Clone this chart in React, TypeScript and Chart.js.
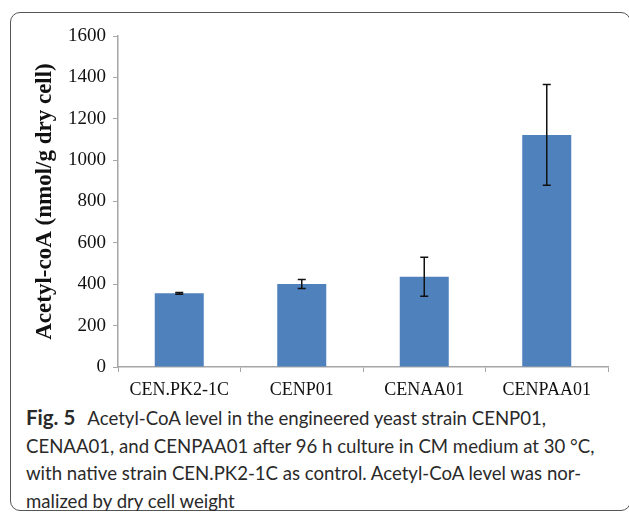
import React, { useEffect, useRef } from "react";
import { Chart, registerables } from "chart.js";

Chart.register(...registerables);

const categories = ["CEN.PK2-1C", "CENP01", "CENAA01", "CENPAA01"];
const values = [356, 401, 436, 1122];
const errors = [4, 22, 94, 244];
const yTicks = [0, 200, 400, 600, 800, 1000, 1200, 1400, 1600];
const yTitle = "Acetyl-coA (nmol/g dry cell)";
const captionLabel = "Fig. 5";
const captionLines = [
  "Acetyl-CoA level in the engineered yeast strain CENP01,",
  "CENAA01, and CENPAA01 after 96 h culture in CM medium at 30 °C,",
  "with native strain CEN.PK2-1C as control. Acetyl-CoA level was nor-",
  "malized by dry cell weight",
];

const errorBarPlugin = {
  id: "errorBars",
  afterDatasetsDraw(chart: any) {
    const ctx = chart.ctx;
    const meta = chart.getDatasetMeta(0);
    const y = chart.scales.y;
    ctx.save();
    ctx.strokeStyle = "#111";
    ctx.lineWidth = 1.5;
    meta.data.forEach((bar: any, i: number) => {
      const x = bar.x;
      const top = y.getPixelForValue(values[i] + errors[i]);
      const bot = y.getPixelForValue(values[i] - errors[i]);
      ctx.beginPath();
      ctx.moveTo(x, top);
      ctx.lineTo(x, bot);
      ctx.moveTo(x - 4, top);
      ctx.lineTo(x + 4, top);
      ctx.moveTo(x - 4, bot);
      ctx.lineTo(x + 4, bot);
      ctx.stroke();
    });
    ctx.restore();
  },
};

export default function App() {
  const ref = useRef<HTMLCanvasElement>(null);
  useEffect(() => {
    if (!ref.current) return;
    const chart = new Chart(ref.current, {
      type: "bar",
      data: {
        labels: categories,
        datasets: [
          {
            data: values,
            backgroundColor: "#4f81bd",
            borderWidth: 0,
            categoryPercentage: 1,
            barPercentage: 0.4,
          },
        ],
      },
      options: {
        animation: false,
        responsive: false,
        devicePixelRatio: 1,
        layout: { padding: { left: 0, top: 36, right: 21, bottom: 0 } },
        plugins: {
          legend: { display: false },
          tooltip: { enabled: false },
        },
        scales: {
          x: {
            grid: {
              drawOnChartArea: false,
              drawTicks: true,
              tickLength: 5,
              color: "#a6a6a6",
              offset: true,
            },
            border: { color: "#a6a6a6", width: 1.5 },
            ticks: {
              color: "#111",
              padding: 7,
              maxRotation: 0,
              font: { family: "'Liberation Serif', 'Times New Roman', serif", size: 18 },
            },
            afterFit(scale: any) {
              scale.height = 33;
            },
          },
          y: {
            min: 0,
            max: 1600,
            afterBuildTicks(scale: any) {
              scale.ticks = yTicks.map((v) => ({ value: v }));
            },
            grid: {
              drawOnChartArea: false,
              drawTicks: true,
              tickLength: 5,
              color: "#a6a6a6",
            },
            border: { color: "#a6a6a6", width: 1.5 },
            ticks: {
              color: "#111",
              padding: 7,
              callback: (v: any) => String(v),
              font: { family: "'Liberation Serif', 'Times New Roman', serif", size: 19 },
            },
            title: {
              display: true,
              text: yTitle,
              color: "#111",
              padding: { top: 31, bottom: 0 },
              font: {
                family: "'Liberation Serif', 'Times New Roman', serif",
                size: 23,
                weight: "bold",
              },
            },
            afterFit(scale: any) {
              scale.width = 118;
            },
          },
        },
      },
      plugins: [errorBarPlugin],
    });
    return () => chart.destroy();
  }, []);

  return (
    <div
      style={{
        position: "absolute",
        left: 0,
        top: 0,
        width: 629,
        height: 512,
        overflow: "hidden",
        background: "#fff",
      }}
    >
      <div
        style={{
          position: "absolute",
          left: 10,
          top: 12,
          width: 621,
          height: 499,
          border: "1.5px solid #555",
          borderRadius: 10,
          boxSizing: "border-box",
        }}
      />
      <canvas
        ref={ref}
        width={629}
        height={400}
        style={{ position: "absolute", left: 0, top: 0, width: 629, height: 400 }}
      />
      <div
        style={{
          position: "absolute",
          left: 26,
          top: 404,
          fontFamily: "Lato, 'Open Sans', sans-serif",
          fontSize: 18.6,
          lineHeight: "27.5px",
          color: "#2a2a2a",
          whiteSpace: "nowrap",
        }}
      >
        {captionLines.map((line, i) => (
          <div key={i}>
            {i === 0 ? (
              <span
                style={{
                  fontWeight: "bold",
                  fontSize: 20.5,
                  display: "inline-block",
                  marginRight: 12,
                }}
              >
                {captionLabel}
              </span>
            ) : null}
            {line}
          </div>
        ))}
      </div>
    </div>
  );
}
